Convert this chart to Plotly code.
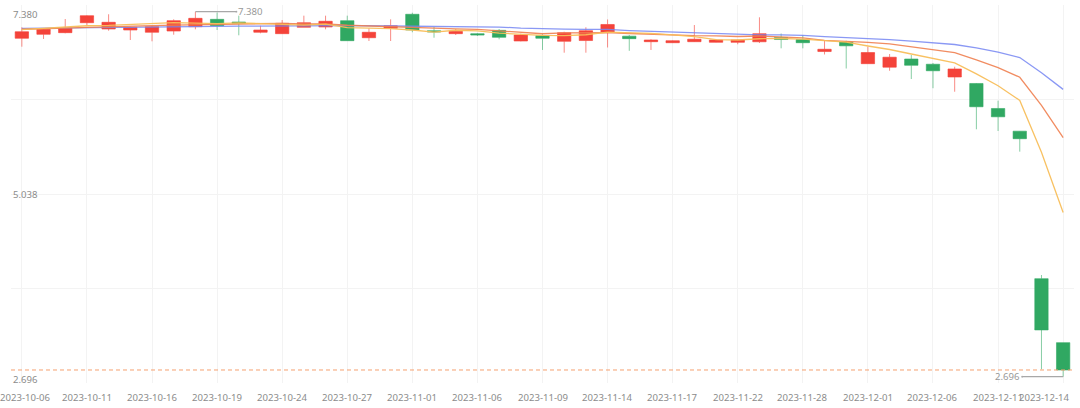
import plotly.graph_objects as go

DATES = [
    "2023-10-06", "2023-10-09", "2023-10-10", "2023-10-11", "2023-10-12", "2023-10-13",
    "2023-10-16", "2023-10-17", "2023-10-18", "2023-10-19", "2023-10-20", "2023-10-23",
    "2023-10-24", "2023-10-25", "2023-10-26", "2023-10-27", "2023-10-30", "2023-10-31",
    "2023-11-01", "2023-11-02", "2023-11-03", "2023-11-06", "2023-11-07", "2023-11-08",
    "2023-11-09", "2023-11-10", "2023-11-13", "2023-11-14", "2023-11-15", "2023-11-16",
    "2023-11-17", "2023-11-20", "2023-11-21", "2023-11-22", "2023-11-24", "2023-11-27",
    "2023-11-28", "2023-11-29", "2023-11-30", "2023-12-01", "2023-12-04", "2023-12-05",
    "2023-12-06", "2023-12-07", "2023-12-08", "2023-12-11", "2023-12-12", "2023-12-13",
    "2023-12-14",
]

OPEN = [7.039, 7.090, 7.111, 7.239, 7.158, 7.145, 7.116, 7.132, 7.188, 7.282,
        7.248, 7.116, 7.098, 7.180, 7.184, 7.265, 7.046, 7.167, 7.347, 7.136,
        7.098, 7.098, 7.141, 7.004, 7.072, 7.000, 7.010, 7.116, 7.066, 6.995,
        6.982, 6.995, 6.987, 6.987, 6.994, 7.049, 7.022, 6.869, 6.991, 6.713,
        6.668, 6.773, 6.706, 6.542, 6.459, 6.138, 5.847, 3.954, 3.133]
HIGH = [7.180, 7.162, 7.286, 7.335, 7.347, 7.188, 7.197, 7.282, 7.380, 7.370,
        7.329, 7.200, 7.273, 7.329, 7.329, 7.329, 7.167, 7.282, 7.367, 7.184,
        7.158, 7.107, 7.158, 7.098, 7.090, 7.123, 7.180, 7.280, 7.081, 7.026,
        7.013, 7.209, 7.023, 7.023, 7.308, 7.100, 7.081, 7.010, 7.008, 6.931,
        6.837, 6.824, 6.722, 6.674, 6.465, 6.238, 5.849, 4.001, 3.133]
LOW = [6.931, 7.030, 7.103, 7.209, 7.136, 7.017, 7.000, 7.085, 7.154, 7.145,
       7.077, 7.103, 7.094, 7.180, 7.154, 7.008, 7.004, 7.004, 7.116, 7.046,
       7.081, 7.068, 7.026, 7.000, 6.889, 6.854, 6.854, 6.921, 6.878, 6.889,
       6.978, 6.991, 6.985, 6.962, 6.978, 6.910, 6.910, 6.831, 6.651, 6.713,
       6.622, 6.516, 6.398, 6.353, 5.871, 5.849, 5.584, 2.791, 2.696]
CLOSE = [7.123, 7.154, 7.171, 7.329, 7.244, 7.180, 7.188, 7.265, 7.295, 7.200,
         7.231, 7.145, 7.231, 7.239, 7.257, 7.008, 7.116, 7.200, 7.145, 7.120,
         7.128, 7.081, 7.051, 7.081, 7.039, 7.111, 7.136, 7.216, 7.034, 7.017,
         7.008, 7.027, 7.017, 7.017, 7.098, 7.023, 6.982, 6.898, 6.942, 6.856,
         6.796, 6.692, 6.622, 6.645, 6.160, 6.031, 5.750, 3.296, 2.782]

MA5 = [7.150, 7.168, 7.187, 7.200, 7.204, 7.216, 7.222, 7.241, 7.234, 7.226,
       7.236, 7.227, 7.220, 7.209, 7.221, 7.176, 7.170, 7.164, 7.145, 7.118,
       7.142, 7.135, 7.105, 7.092, 7.076, 7.073, 7.084, 7.117, 7.107, 7.103,
       7.082, 7.060, 7.021, 7.017, 7.033, 7.036, 7.027, 7.004, 6.989, 6.940,
       6.895, 6.837, 6.782, 6.722, 6.583, 6.430, 6.242, 5.576, 4.804]
MA10 = [7.155, 7.160, 7.168, 7.180, 7.190, 7.196, 7.202, 7.208, 7.212, 7.215,
        7.226, 7.225, 7.231, 7.222, 7.223, 7.206, 7.199, 7.192, 7.177, 7.169,
        7.159, 7.153, 7.135, 7.119, 7.097, 7.107, 7.109, 7.111, 7.100, 7.089,
        7.077, 7.072, 7.069, 7.062, 7.068, 7.059, 7.044, 7.012, 7.003, 6.987,
        6.966, 6.932, 6.893, 6.855, 6.762, 6.662, 6.539, 6.179, 5.763]
MA20 = [7.165, 7.167, 7.170, 7.173, 7.176, 7.179, 7.182, 7.185, 7.188, 7.191,
        7.194, 7.197, 7.199, 7.201, 7.202, 7.202, 7.200, 7.198, 7.196, 7.192,
        7.192, 7.189, 7.183, 7.170, 7.160, 7.157, 7.154, 7.152, 7.138, 7.129,
        7.118, 7.112, 7.102, 7.090, 7.083, 7.083, 7.077, 7.061, 7.051, 7.038,
        7.022, 7.002, 6.981, 6.959, 6.915, 6.861, 6.792, 6.596, 6.383]

FONT = "Noto Sans"
LABEL_COLOR = "#8c8c8c"
GRID = "#f3f3f3"

hi = max(HIGH)
lo = min(LOW)
i_hi = HIGH.index(hi)
i_lo = LOW.index(lo)
y_top = hi + 0.086
y_bot = lo - 0.081

fig = go.Figure()
fig.add_trace(go.Candlestick(
    x=DATES, open=OPEN, high=HIGH, low=LOW, close=CLOSE,
    increasing=dict(fillcolor="#F4433A", line=dict(color="rgba(244,67,58,0.62)", width=1)),
    decreasing=dict(fillcolor="#30A862", line=dict(color="rgba(48,168,98,0.58)", width=1)),
    showlegend=False, hoverinfo="skip",
))
for vals, col in ((MA20, "rgba(118,134,242,0.85)"),
                  (MA10, "rgba(240,128,80,0.9)"),
                  (MA5, "rgba(248,190,90,0.95)")):
    fig.add_trace(go.Scatter(x=DATES, y=vals, mode="lines",
                             line=dict(color=col, width=1.3),
                             showlegend=False, hoverinfo="skip"))

annotations = []
# x-axis labels
for i in range(0, len(DATES), 3):
    a = dict(x=DATES[i], xref="x", y=0, yref="paper", yshift=-14.5,
             yanchor="middle", text=DATES[i], showarrow=False,
             font=dict(family=FONT, size=9.6, color=LABEL_COLOR))
    if i == 0:
        a.update(xshift=4)
    if i == len(DATES) - 1:
        a.update(xanchor="right", xshift=9)
    annotations.append(a)

# y-axis labels (min / mid / max)
for v, ys in ((hi, -2.5), ((hi + lo) / 2, 0), (lo, -2.5)):
    annotations.append(dict(x=0, xref="paper", y=v, yref="y", yshift=ys,
                            xanchor="left", yanchor="middle", text=f"{v:.3f}",
                            showarrow=False,
                            font=dict(family=FONT, size=9.6, color=LABEL_COLOR)))

# max / min markers
annotations.append(dict(x=DATES[i_hi], y=hi, xref="x", yref="y", text=f"{hi:.3f}",
                        showarrow=True, ax=41, ay=0, xanchor="left",
                        arrowside="start", startarrowhead=6, startarrowsize=0.35,
                        arrowwidth=1.3, arrowcolor="#a8a8a8",
                        font=dict(family=FONT, size=9.6, color="#999999")))
annotations.append(dict(x=DATES[i_lo], y=lo, xref="x", yref="y", text=f"{lo:.3f}",
                        showarrow=True, ax=-41, ay=0, xanchor="right",
                        arrowside="start", startarrowhead=6, startarrowsize=0.35,
                        arrowwidth=1.3, arrowcolor="#a8a8a8",
                        font=dict(family=FONT, size=9.6, color="#999999")))

fig.update_layout(
    width=1080, height=408, autosize=False,
    margin=dict(l=11, r=6, t=5, b=25),
    paper_bgcolor="white", plot_bgcolor="white",
    hovermode=False, boxgap=0.12,
    annotations=annotations,
    shapes=[dict(type="line", xref="paper", x0=0, x1=1, yref="y",
                 y0=CLOSE[-1], y1=CLOSE[-1],
                 line=dict(color="#F5A070", width=1, dash="4px,3px"))],
)
fig.update_xaxes(type="category", range=[-0.5, len(DATES) - 0.5],
                 tickvals=DATES[::3], showticklabels=False, ticks="",
                 showgrid=True, gridcolor=GRID, gridwidth=1,
                 zeroline=False, showline=False, rangeslider=dict(visible=False),
                 fixedrange=True)
fig.update_yaxes(range=[y_bot, y_top],
                 tickvals=[y_bot + k * (y_top - y_bot) / 4 for k in range(5)],
                 showticklabels=False, ticks="", showgrid=True, gridcolor=GRID,
                 zeroline=False, showline=False, fixedrange=True)

fig.write_html("out.html", config={"displayModeBar": False},
               post_script="document.body.style.margin='0';document.body.style.padding='0';")
